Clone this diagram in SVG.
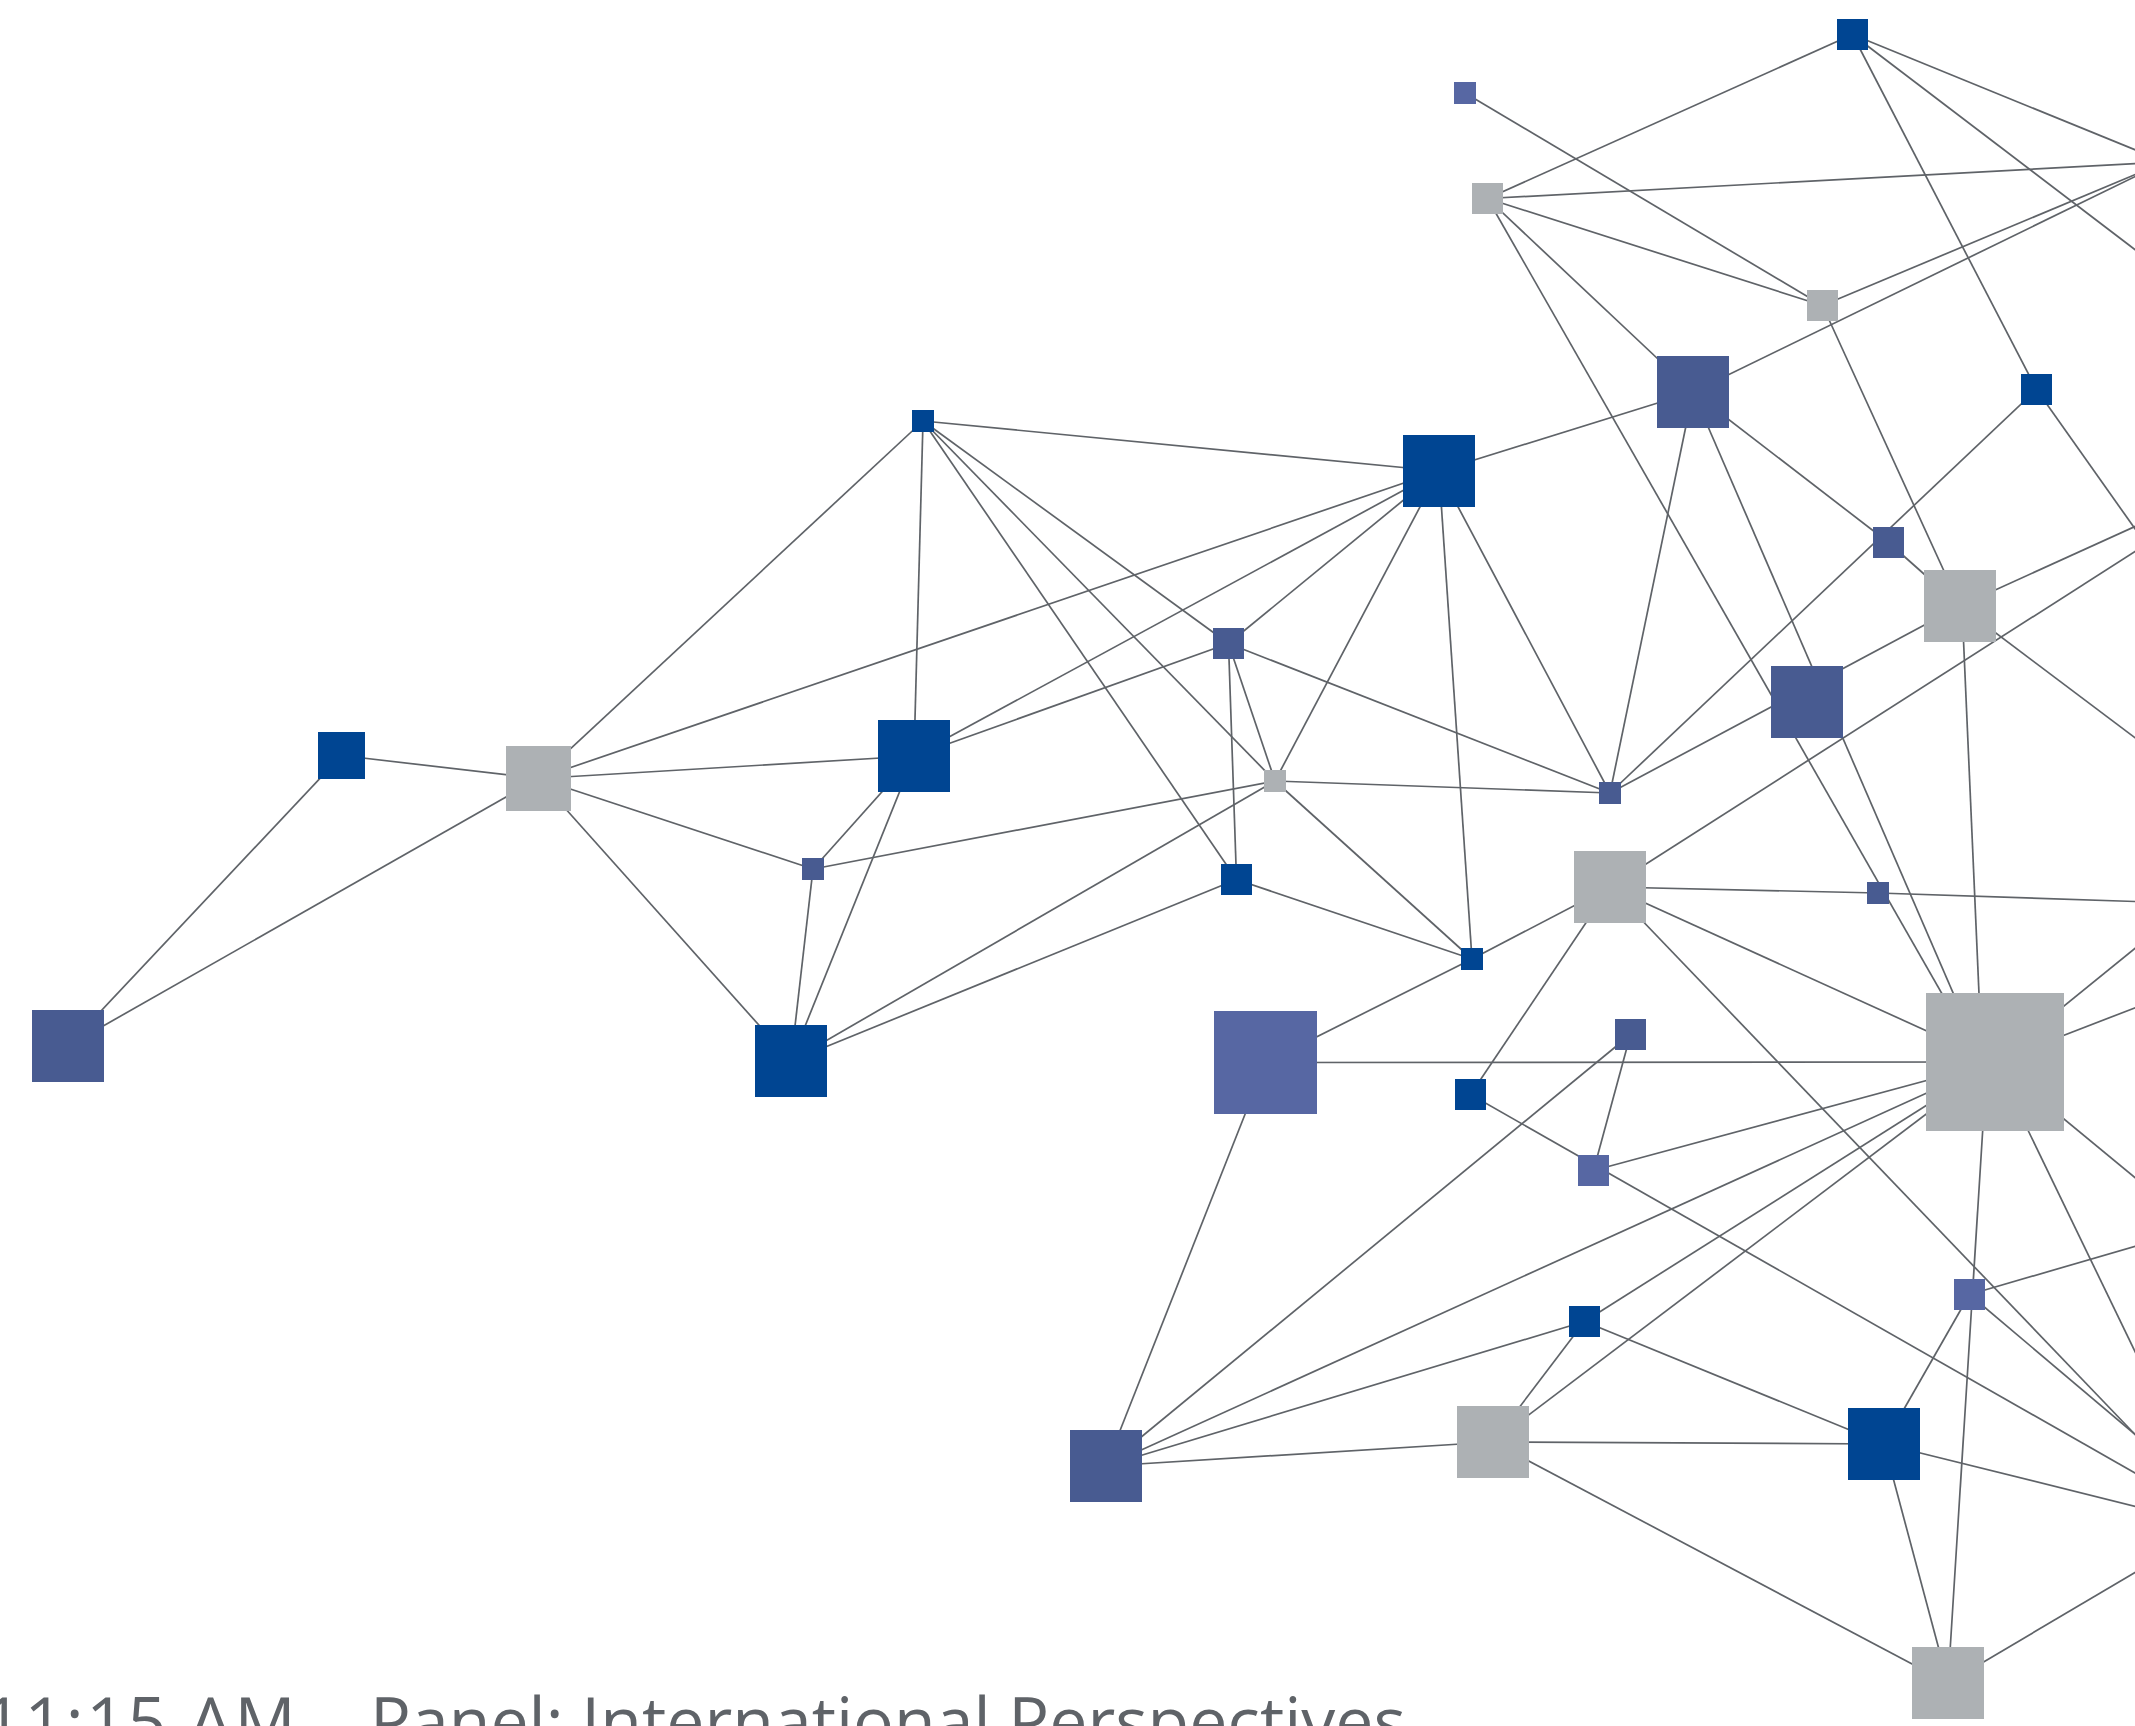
<svg xmlns="http://www.w3.org/2000/svg" width="2135" height="1726" viewBox="0 0 2135 1726">
<style>
.e{stroke:#5F6368;stroke-width:1.7;fill:none}
.b{fill:#004592}.d{fill:#485B91}.l{fill:#5767A3}.g{fill:#ADB1B4}
.t{font-family:"Open Sans","Noto Sans",sans-serif;font-size:68px;fill:#5F6368}
</style>
<rect width="2135" height="1726" fill="#FFFFFF"/>
<g id="edges" class="e">
<path d="M1852.5 34.5L1487.5 198.5"/>
<path d="M1852.5 34.5L2036.5 389.5"/>
<path d="M1852.5 34.5L2165 162"/>
<path d="M1852.5 34.5L2160 268.6"/>
<path d="M1465 93L1822.5 305.5"/>
<path d="M1487.5 198.5L1822.5 305.5"/>
<path d="M1487.5 198.5L1693 392"/>
<path d="M1487.5 198.5L1981 1062"/>
<path d="M1487.5 198.5L2165 162"/>
<path d="M1822.5 305.5L1960 606"/>
<path d="M1822.5 305.5L2165 162"/>
<path d="M1693 392L1439 471"/>
<path d="M1693 392L1888.5 542.5"/>
<path d="M1693 392L1610 793"/>
<path d="M1693 392L1983 1062"/>
<path d="M1693 392L2165 162"/>
<path d="M2036.5 389.5L1610 793"/>
<path d="M2036.5 389.5L2150 550"/>
<path d="M923 421L1439 471"/>
<path d="M923 421L538.5 778.5"/>
<path d="M923 421L914 756"/>
<path d="M923 421L1275 781"/>
<path d="M923 421L1236.5 879.5"/>
<path d="M923 421L1228.5 643.5"/>
<path d="M1439 471L538.5 778.5"/>
<path d="M1439 471L914 756"/>
<path d="M1439 471L1228.5 643.5"/>
<path d="M1439 471L1275 781"/>
<path d="M1439 471L1472 959"/>
<path d="M1439 471L1610 793"/>
<path d="M1888.5 542.5L1960 606"/>
<path d="M1960 606L1610 793"/>
<path d="M1962 606L1982 1062"/>
<path d="M1960 606L2150 519.7"/>
<path d="M1960 606L2150 749"/>
<path d="M1228.5 643.5L1275 781"/>
<path d="M1228.5 643.5L1236.5 879.5"/>
<path d="M1228.5 643.5L914 756"/>
<path d="M1228.5 643.5L1610 793"/>
<path d="M341.5 755.5L538.5 778.5"/>
<path d="M341.5 755.5L68 1046"/>
<path d="M538.5 778.5L68 1046"/>
<path d="M538.5 778.5L914 756"/>
<path d="M538.5 778.5L813 869"/>
<path d="M538.5 778.5L791 1061"/>
<path d="M914 756L813 869"/>
<path d="M914 756L791 1061"/>
<path d="M1275 781L1610 793"/>
<path d="M1275 781L1472 959"/>
<path d="M1275 781L813 869"/>
<path d="M1275 781L791 1061"/>
<path d="M813 869L791 1061"/>
<path d="M1236.5 879.5L1472 959"/>
<path d="M1236.5 879.5L791 1061"/>
<path d="M1610 887L1472 959"/>
<path d="M1610 887L1470.5 1094.5"/>
<path d="M1610 887L1995 1062"/>
<path d="M1610 887L1878 893"/>
<path d="M1878 893L2150 902"/>
<path d="M1610 887L2150 542"/>
<path d="M1610 887L2150 1450"/>
<path d="M1472 959L1265.5 1062.5"/>
<path d="M1265.5 1062.5L1995 1062"/>
<path d="M1265.5 1062.5L1106 1466"/>
<path d="M1995 1062L1593.5 1170.5"/>
<path d="M1995 1062L1584.5 1321.5"/>
<path d="M1995 1062L1106 1466"/>
<path d="M1995 1062L1493 1442"/>
<path d="M1987 1062L1948 1683"/>
<path d="M1995 1062L2150 936.2"/>
<path d="M1995 1062L2150 1002"/>
<path d="M1995 1062L2150 1190"/>
<path d="M1995 1062L2150 1382.5"/>
<path d="M1630.5 1034.5L1593.5 1170.5"/>
<path d="M1630.5 1034.5L1106 1466"/>
<path d="M1470.5 1094.5L2150 1481.5"/>
<path d="M1969.5 1294.5L1884 1444"/>
<path d="M1969.5 1294.5L2150 1242"/>
<path d="M1969.5 1294.5L2150 1447"/>
<path d="M1584.5 1321.5L1106 1466"/>
<path d="M1584.5 1321.5L1493 1442"/>
<path d="M1584.5 1321.5L1884 1444"/>
<path d="M1106 1466L1493 1442"/>
<path d="M1493 1442L1884 1444"/>
<path d="M1493 1442L1948 1683"/>
<path d="M1884 1444L1948 1683"/>
<path d="M1884 1444L2150 1510"/>
<path d="M1948 1683L2150 1563.6"/>
</g>
<g id="n1"><rect class="b" x="1837" y="19" width="31" height="31"/></g>
<g id="n2"><rect class="l" x="1454" y="82" width="22" height="22"/></g>
<g id="n3"><rect class="g" x="1472" y="183" width="31" height="31"/></g>
<g id="n4"><rect class="g" x="1807" y="290" width="31" height="31"/></g>
<g id="n5"><rect class="d" x="1657" y="356" width="72" height="72"/></g>
<g id="n6"><rect class="b" x="2021" y="374" width="31" height="31"/></g>
<g id="n7"><rect class="b" x="912" y="410" width="22" height="22"/></g>
<g id="n8"><rect class="b" x="1403" y="435" width="72" height="72"/></g>
<g id="n9"><rect class="d" x="1873" y="527" width="31" height="31"/></g>
<g id="n10"><rect class="g" x="1924" y="570" width="72" height="72"/></g>
<g id="n11"><rect class="d" x="1213" y="628" width="31" height="31"/></g>
<g id="n12"><rect class="d" x="1771" y="666" width="72" height="72"/></g>
<g id="n13"><rect class="b" x="318" y="732" width="47" height="47"/></g>
<g id="n14"><rect class="g" x="506" y="746" width="65" height="65"/></g>
<g id="n15"><rect class="b" x="878" y="720" width="72" height="72"/></g>
<g id="n16"><rect class="g" x="1264" y="770" width="22" height="22"/></g>
<g id="n17"><rect class="d" x="1599" y="782" width="22" height="22"/></g>
<g id="n18"><rect class="d" x="802" y="858" width="22" height="22"/></g>
<g id="n19"><rect class="b" x="1221" y="864" width="31" height="31"/></g>
<g id="n20"><rect class="g" x="1574" y="851" width="72" height="72"/></g>
<g id="n21"><rect class="d" x="1867" y="882" width="22" height="22"/></g>
<g id="n22"><rect class="b" x="1461" y="948" width="22" height="22"/></g>
<g id="n23"><rect class="d" x="32" y="1010" width="72" height="72"/></g>
<g id="n24"><rect class="b" x="755" y="1025" width="72" height="72"/></g>
<g id="n25"><rect class="l" x="1214" y="1011" width="103" height="103"/></g>
<g id="n26"><rect class="g" x="1926" y="993" width="138" height="138"/></g>
<g id="n27"><rect class="d" x="1615" y="1019" width="31" height="31"/></g>
<g id="n28"><rect class="b" x="1455" y="1079" width="31" height="31"/></g>
<g id="n29"><rect class="l" x="1578" y="1155" width="31" height="31"/></g>
<g id="n30"><rect class="l" x="1954" y="1279" width="31" height="31"/></g>
<g id="n31"><rect class="b" x="1569" y="1306" width="31" height="31"/></g>
<g id="n32"><rect class="d" x="1070" y="1430" width="72" height="72"/></g>
<g id="n33"><rect class="g" x="1457" y="1406" width="72" height="72"/></g>
<g id="n34"><rect class="b" x="1848" y="1408" width="72" height="72"/></g>
<g id="n35"><rect class="g" x="1912" y="1647" width="72" height="72"/></g>
<g id="caption">
<text class="t" x="-17" y="1745.5" letter-spacing="2.5">11:15 AM</text>
<text class="t" x="370" y="1745.5">Panel: International Perspectives</text>
</g>
</svg>
